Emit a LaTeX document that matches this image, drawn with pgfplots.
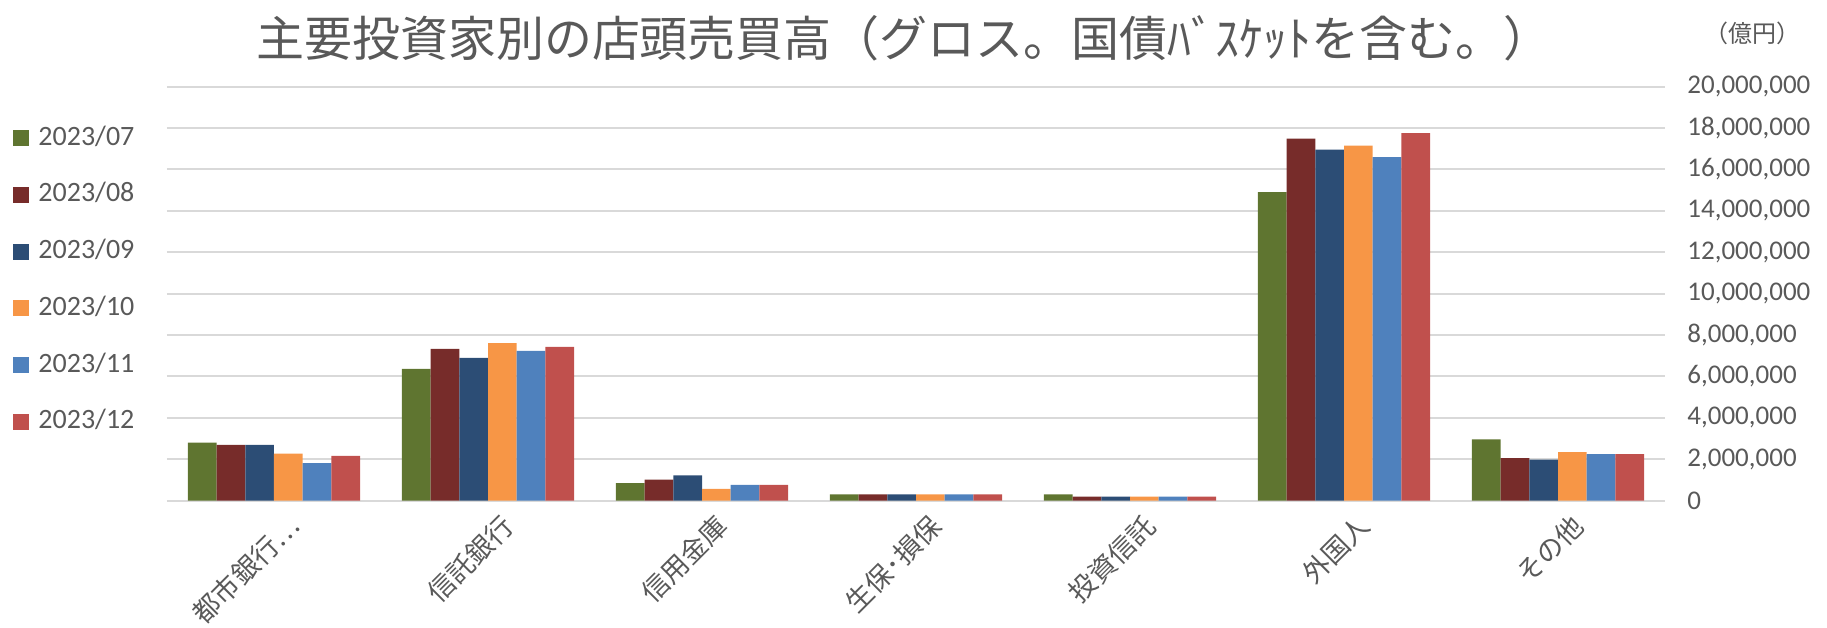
\documentclass[border=0pt]{standalone}
\usepackage{fontspec}
\setmainfont{Carlito}
\newfontfamily\cjk{Noto Sans CJK JP}
\usepackage{pgfplots}
\usepackage{pgfplotstable}
\pgfplotsset{compat=1.18}
\definecolor{cA}{HTML}{5F7530}
\definecolor{cB}{HTML}{772C2A}
\definecolor{cC}{HTML}{2C4D75}
\definecolor{cD}{HTML}{F79646}
\definecolor{cE}{HTML}{4F81BD}
\definecolor{cF}{HTML}{C0504D}
\definecolor{txt}{HTML}{595959}
\definecolor{gridc}{HTML}{D9D9D9}

\pgfplotstableread{
x a b c d e f
0 2790000 2690000 2690000 2260000 1800000 2160000
1 6360000 7330000 6890000 7600000 7230000 7420000
2 840000 1010000 1210000 560000 760000 760000
3 300000 300000 300000 300000 300000 300000
4 290000 190000 190000 190000 190000 190000
5 14900000 17480000 16950000 17140000 16590000 17750000
6 2950000 2050000 1980000 2340000 2240000 2240000
}\data

\begin{document}
\begin{tikzpicture}
\useasboundingbox (0,0) rectangle (913.5pt,313.5pt);
\begin{axis}[
  at={(83.5pt,63.25pt)}, anchor=south west,
  scale only axis, width=749pt, height=207pt,
  xmin=-0.5, xmax=6.5, ymin=0, ymax=20000000,
  ybar=0pt, bar width=14.35pt,
  axis line style={draw=none},
  tick style={draw=none},
  ymajorgrids, grid style={gridc, line width=1pt},
  ytick={0,2000000,4000000,6000000,8000000,10000000,12000000,14000000,16000000,18000000,20000000},
  yticklabel pos=right,
  scaled y ticks=false,
  yticklabel style={/pgf/number format/fixed, /pgf/number format/1000 sep={,},
    /pgf/number format/assume math mode=true,
    font=\fontsize{13.5}{13.5}\selectfont, text=txt, anchor=west, inner sep=0pt, xshift=11pt},
  xtick={0,1,2,3,4,5,6},
  xticklabels={都市銀行…,信託銀行,信用金庫,生保･損保,投資信託,外国人,その他},
  xticklabel style={font=\cjk\fontsize{13.5}{13.5}\selectfont, text=txt, rotate=45, anchor=north east, inner sep=0pt, yshift=-5pt, xshift=3pt},
  legend style={at={(-0.1068,0.5326)}, anchor=west, draw=none, fill=none,
    font=\fontsize{14}{14}\selectfont, text=txt, row sep=15.35pt,
    nodes={inner sep=0pt, text height=10pt, text depth=3pt},
    /tikz/every odd column/.append style={column sep=4.5pt}},
  legend cell align=left,
  legend image code/.code={\fill[#1] (0pt,-4pt) rectangle (8pt,4pt);},
]
\addplot[fill=cA, draw=none] table[x=x,y=a]{\data};
\addplot[fill=cB, draw=none] table[x=x,y=b]{\data};
\addplot[fill=cC, draw=none] table[x=x,y=c]{\data};
\addplot[fill=cD, draw=none] table[x=x,y=d]{\data};
\addplot[fill=cE, draw=none] table[x=x,y=e]{\data};
\addplot[fill=cF, draw=none] table[x=x,y=f]{\data};
\legend{2023/07,2023/08,2023/09,2023/10,2023/11,2023/12}
\end{axis}
\node[font=\cjk\fontsize{24}{24}\selectfont, text=txt] at (452pt,294.5pt) {主要投資家別の店頭売買高（グロス。国債ﾊﾞｽｹｯﾄを含む。）};
\node[font=\cjk\fontsize{12}{12}\selectfont, text=txt] at (876pt,297pt) {（億円）};
\end{tikzpicture}
\end{document}
